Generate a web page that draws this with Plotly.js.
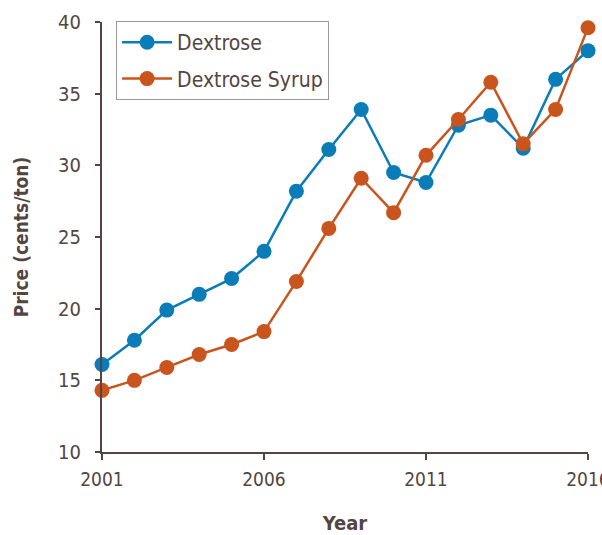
<!DOCTYPE html>
<html>
<head>
<meta charset="utf-8">
<script src="https://cdn.plot.ly/plotly-3.0.1.min.js"></script>
<style>html,body{margin:0;padding:0;background:#fff;}#chart{width:602px;height:535px;}</style>
</head>
<body>
<div id="chart"></div>
<script>
const years = [2001,2002,2003,2004,2005,2006,2007,2008,2009,2010,2011,2012,2013,2014,2015,2016];
const dextrose = [16.1,17.8,19.9,21.0,22.1,24.0,28.2,31.1,33.9,29.5,28.8,32.8,33.5,31.2,36.0,38.0];
const dextroseSyrup = [14.3,15.0,15.9,16.8,17.5,18.4,21.9,25.6,29.1,26.7,30.7,33.2,35.8,31.5,33.9,39.6];
const xTicks = [2001,2006,2011,2016];
const yTicks = [10,15,20,25,30,35,40];

const FONT = '"DejaVu Sans Condensed", "Roboto", sans-serif';
const TXT = '#54453f';

const traces = [
  {x: years, y: dextrose, name: 'Dextrose', type: 'scatter', mode: 'lines+markers', legendgroup: 'a',
   line: {color: '#0a7db8', width: 2.5}, marker: {color: '#0a7db8', size: 15}, cliponaxis: false},
  {x: years, y: dextroseSyrup, name: 'Dextrose Syrup', type: 'scatter', mode: 'lines+markers', legendgroup: 'b',
   line: {color: '#c9541e', width: 2.5}, marker: {color: '#c9541e', size: 15}, cliponaxis: false}
];

const layout = {
  width: 602, height: 535,
  margin: {l: 102, r: 14, t: 22, b: 83},
  paper_bgcolor: '#fff', plot_bgcolor: '#fff',
  font: {family: FONT, color: TXT, size: 19},
  showlegend: true,
  legend: {x: 0.029, y: 1.002, xanchor: 'left', yanchor: 'top',
           bordercolor: '#999', borderwidth: 1, bgcolor: '#fff',
           font: {family: FONT, size: 21, color: TXT}, itemwidth: 50,
           tracegroupgap: 6},
  xaxis: {range: [2001, 2016], tickvals: xTicks, ticktext: xTicks.map(String),
          showgrid: false, zeroline: false, showline: true, linecolor: '#54453f', linewidth: 2,
          ticks: 'outside', ticklen: 6, tickwidth: 2, tickcolor: '#54453f',
          ticklabeloverflow: 'allow', ticklabelstandoff: 3,
          tickfont: {family: FONT, size: 19, color: TXT},
          title: {text: '<b>Year</b>', font: {family: FONT, size: 20, color: TXT}, standoff: 28}},
  yaxis: {range: [10, 40], tickvals: yTicks,
          showgrid: false, zeroline: false, showline: true, linecolor: '#54453f', linewidth: 2,
          ticks: 'outside', ticklen: 5, tickwidth: 2, tickcolor: '#54453f',
          ticklabelstandoff: 10,
          tickfont: {family: FONT, size: 20, color: TXT},
          title: {text: '<b>Price (cents/ton)</b>', font: {family: FONT, size: 19, color: TXT}, standoff: 24}}
};

Plotly.newPlot('chart', traces, layout, {displayModeBar: false, staticPlot: true});
</script>
</body>
</html>
